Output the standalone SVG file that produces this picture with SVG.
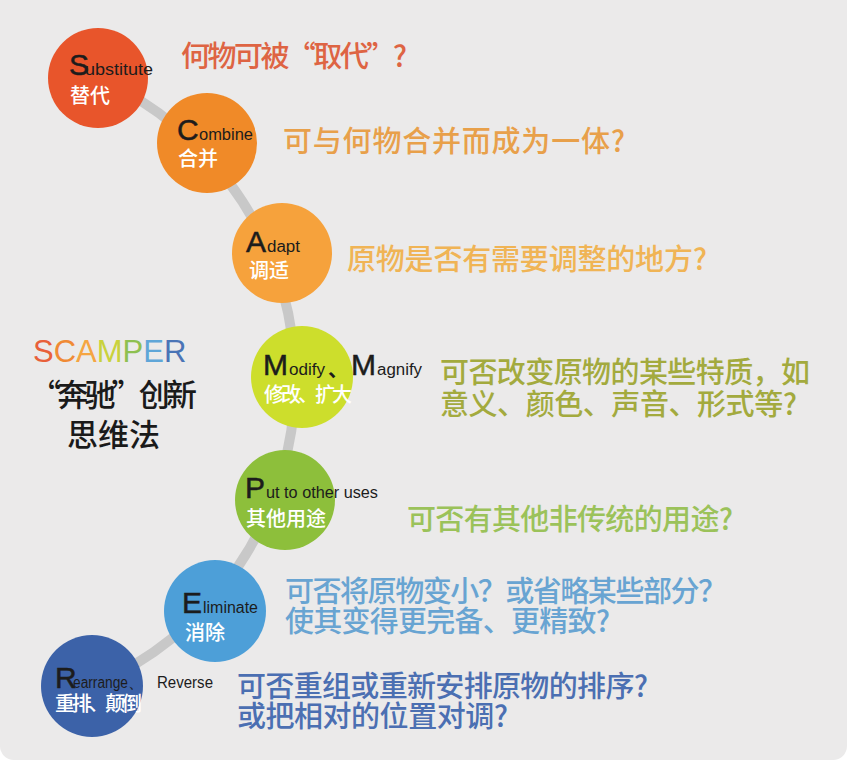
<svg xmlns="http://www.w3.org/2000/svg" width="849" height="767" viewBox="0 0 849 767">
<style>
.big{font-family:"Liberation Sans",Arial,sans-serif;font-size:30px;fill:#1c1c1c;stroke:#1c1c1c;stroke-width:0.5px}
.sm{font-family:"Liberation Sans",Arial,sans-serif;font-size:16px;fill:#1c1c1c}
.dun{font-family:"Noto Sans CJK SC",sans-serif;font-size:20px;fill:#1c1c1c;font-weight:bold}
.cn{font-family:"Noto Sans CJK SC",sans-serif;font-size:20px;fill:#ffffff;font-weight:500}
.q{font-family:"Noto Sans CJK SC",sans-serif;font-size:29px;font-weight:500}
.title{font-family:"Noto Sans CJK SC",sans-serif;font-size:31px;fill:#1a1a1a;font-weight:500}
</style>
<rect x="0" y="0" width="849" height="767" fill="#ffffff"/>
<rect x="0" y="-20" width="847" height="780" rx="14" fill="#ebeaea"/>
<g id="connectors">
<path d="M98,78 A331,331 0 0 1 92,686" fill="none" stroke="#c8c8c8" stroke-width="10"/>
</g>
<g id="title">
<text x="33" y="362" font-family="Liberation Sans,Arial,sans-serif" font-size="31"><tspan fill="#e8603a">S</tspan><tspan fill="#f08a35">C</tspan><tspan fill="#f5a542">A</tspan><tspan fill="#c9d23c">M</tspan><tspan fill="#8ec050">P</tspan><tspan fill="#5fa6d8">E</tspan><tspan fill="#4a74b6">R</tspan></text>
<text class="title" x="30" y="406" textLength="167">“奔驰”创新</text>
<text class="title" x="67" y="446">思维法</text>
</g>
<g id="node-s">
<circle cx="98" cy="78" r="50" fill="#e8552b"/>
<text class="big" x="69" y="75">S</text>
<text class="sm" x="85" y="75" textLength="68" lengthAdjust="spacingAndGlyphs">ubstitute</text>
<text class="cn" x="70" y="103">替代</text>
<text class="q" x="181" y="67" fill="#de6443" textLength="226">何物可被“取代”?</text>
</g>
<g id="node-c">
<circle cx="207" cy="143" r="50" fill="#f08a28"/>
<text class="big" x="177" y="140">C</text>
<text class="sm" x="199" y="140" textLength="54" lengthAdjust="spacingAndGlyphs">ombine</text>
<text class="cn" x="178" y="166">合并</text>
<text class="q" x="283" y="152" fill="#e8a04a" textLength="342">可与何物合并而成为一体?</text>
</g>
<g id="node-a">
<circle cx="282" cy="253" r="50" fill="#f6a23c"/>
<text class="big" x="246" y="252">A</text>
<text class="sm" x="267" y="252" textLength="33" lengthAdjust="spacingAndGlyphs">dapt</text>
<text class="cn" x="249" y="278">调适</text>
<text class="q" x="347" y="270" fill="#f0b455" textLength="360">原物是否有需要调整的地方?</text>
</g>
<g id="node-m">
<circle cx="302" cy="377" r="51" fill="#cdde2c"/>
<text class="big" x="263" y="375">M</text>
<text class="sm" x="289" y="375" textLength="36" lengthAdjust="spacingAndGlyphs">odify</text>
<text class="dun" x="328" y="377">、</text>
<text class="big" x="351" y="375">M</text>
<text class="sm" x="377" y="375" textLength="45" lengthAdjust="spacingAndGlyphs">agnify</text>
<text class="cn" x="264" y="402" textLength="88">修改、扩大</text>
<text class="q" x="440" y="383" fill="#a3aa3e" textLength="370">可否改变原物的某些特质，如</text>
<text class="q" x="440" y="415" fill="#a3aa3e" textLength="357">意义、颜色、声音、形式等?</text>
</g>
<g id="node-p">
<circle cx="285" cy="500" r="50" fill="#8dbf3b"/>
<text class="big" x="245" y="498">P</text>
<text class="sm" x="266" y="498" textLength="112" lengthAdjust="spacingAndGlyphs">ut to other uses</text>
<text class="cn" x="246" y="526">其他用途</text>
<text class="q" x="407" y="530" fill="#9bc25a" textLength="326">可否有其他非传统的用途?</text>
</g>
<g id="node-e">
<circle cx="215" cy="611" r="51" fill="#4d9fd8"/>
<text class="big" x="182" y="613">E</text>
<text class="sm" x="203" y="613" textLength="55" lengthAdjust="spacingAndGlyphs">liminate</text>
<text class="cn" x="185" y="640">消除</text>
<text class="q" x="285" y="602" fill="#68a4d2" textLength="442">可否将原物变小？或省略某些部分？</text>
<text class="q" x="285" y="632" fill="#68a4d2" textLength="325">使其变得更完备、更精致?</text>
</g>
<g id="node-r">
<circle cx="92" cy="686" r="51" fill="#3c62a8"/>
<text class="big" x="55" y="688">R</text>
<text class="sm" x="73" y="688" textLength="55" lengthAdjust="spacingAndGlyphs">earrange</text>
<text class="sm" x="128" y="688">、</text>
<text class="sm" x="157" y="688" textLength="56" lengthAdjust="spacingAndGlyphs">Reverse</text>
<text class="cn" x="55" y="711" textLength="87">重排、颠倒</text>
<text class="q" x="237" y="697" fill="#4b6fb2" textLength="411">可否重组或重新安排原物的排序?</text>
<text class="q" x="237" y="727" fill="#4b6fb2" textLength="271">或把相对的位置对调?</text>
</g>
</svg>
